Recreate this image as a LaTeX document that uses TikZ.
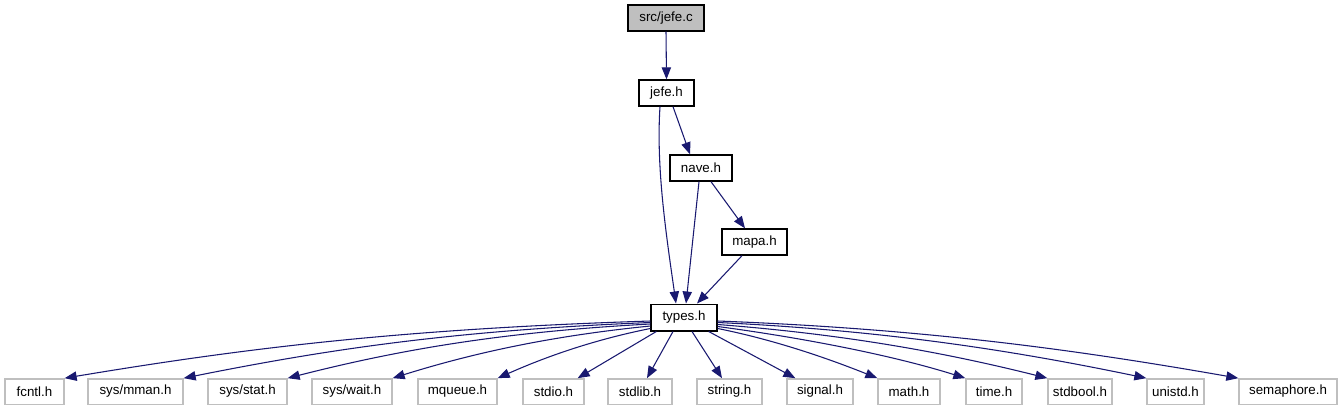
\documentclass[tikz,border=0pt]{standalone}
\usepackage{fontspec}
\setmainfont{Liberation Sans}
\usetikzlibrary{arrows.meta,calc}
\definecolor{edgeblue}{RGB}{25,25,112}
\definecolor{lightborder}{RGB}{191,191,191}
\definecolor{rootfill}{RGB}{191,191,191}
\begin{document}
\begin{tikzpicture}[x=0.75pt,y=-0.75pt,
  box/.style={draw=black,line width=1pt,fill=white,inner sep=0pt,minimum height=19.5pt,font=\fontsize{10}{12}\selectfont},
  rootbox/.style={box,fill=rootfill},
  leaf/.style={draw=lightborder,line width=1pt,fill=white,inner sep=0pt,minimum height=19pt,font=\fontsize{10}{12}\selectfont},
  edge/.style={draw=edgeblue,line width=0.8pt,-{Triangle[length=9pt,width=7pt]}}]
\useasboundingbox (0,0) rectangle (1342,411);
% main nodes
\node[rootbox,minimum width=57pt] (src) at (666,18) {src/jefe.c};
\node[box,minimum width=41.25pt] (jefe) at (666.5,93) {jefe.h};
\node[box,minimum width=46.5pt] (nave) at (701,168) {nave.h};
\node[box,minimum width=48.75pt] (mapa) at (754.5,242) {mapa.h};
\node[box,minimum width=49.5pt,minimum height=20pt] (types) at (684,317.5) {types.h};
% leaves
\node[leaf,minimum width=44.25pt] (fcntl) at (34.5,391.5) {fcntl.h};
\node[leaf,minimum width=71.25pt] (mman) at (135.5,391.5) {sys/mman.h};
\node[leaf,minimum width=59.25pt] (stat) at (247.5,391.5) {sys/stat.h};
\node[leaf,minimum width=60pt] (wait) at (352,391.5) {sys/wait.h};
\node[leaf,minimum width=59.25pt] (mqueue) at (457.5,391.5) {mqueue.h};
\node[leaf,minimum width=45.75pt] (stdio) at (553.5,391.5) {stdio.h};
\node[leaf,minimum width=48pt] (stdlib) at (640,391.5) {stdlib.h};
\node[leaf,minimum width=48.75pt] (string) at (729.5,391.5) {string.h};
\node[leaf,minimum width=49.5pt] (signal) at (820,391.5) {signal.h};
\node[leaf,minimum width=46.5pt] (math) at (909,391.5) {math.h};
\node[leaf,minimum width=42pt] (time) at (994,391.5) {time.h};
\node[leaf,minimum width=48pt] (stdbool) at (1080,391.5) {stdbool.h};
\node[leaf,minimum width=42.75pt] (unistd) at (1175.5,391.5) {unistd.h};
\node[leaf,minimum width=73.5pt] (semaphore) at (1288,391.5) {semaphore.h};
% upper edges
\draw[edge] (src.south) -- (jefe.north);
\draw[edge] ($(jefe.south)+(6.5,0)$) -- ($(nave.north)+(-11,0)$);
\draw[edge] ($(jefe.south)+(-6.5,0)$) .. controls +(-4,60) and +(-10,-70) .. ($(types.north)+(-8,0)$);
\draw[edge] ($(nave.south)+(-2,0)$) -- ($(types.north)+(2,0)$);
\draw[edge] ($(nave.south)+(10,0)$) -- ($(mapa.north)+(-9.5,0)$);
\draw[edge] ($(mapa.south)+(-12.5,0)$) -- ($(types.north)+(13,0)$);
% lower edges, left
\draw[edge] ($(types.west)+(0,3.5)$) .. controls +(-250,8) and +(180,-30) .. (fcntl.north east);
\draw[edge] ($(types.west)+(0,5)$) .. controls +(-200,8) and +(140,-28) .. (mman.north east);
\draw[edge] ($(types.west)+(0,6.5)$) .. controls +(-150,8) and +(110,-28) .. (stat.north east);
\draw[edge] ($(types.west)+(0,8.5)$) .. controls +(-100,10) and +(80,-25) .. (wait.north east);
\draw[edge] ($(types.west)+(0,11)$) .. controls +(-60,12) and +(45,-20) .. (mqueue.north east);
\draw[edge] ($(types.south west)+(6,0)$) -- ($(stdio.north east)+(-7,0)$);
\draw[edge] ($(types.south)+(-11,0)$) -- ($(stdlib.north)+(7,0)$);
\draw[edge] ($(types.south)+(8,0)$) -- ($(string.north)+(-7.5,0)$);
\draw[edge] ($(types.south east)+(-9,0)$) -- ($(signal.north west)+(9,0)$);
% lower edges, right
\draw[edge] ($(types.east)+(0,11)$) .. controls +(60,12) and +(-45,-18) .. (math.north west);
\draw[edge] ($(types.east)+(0,9)$) .. controls +(90,12) and +(-70,-22) .. (time.north west);
\draw[edge] ($(types.east)+(0,7)$) .. controls +(130,10) and +(-100,-25) .. (stdbool.north west);
\draw[edge] ($(types.east)+(0,5)$) .. controls +(170,8) and +(-130,-27) .. (unistd.north west);
\draw[edge] ($(types.east)+(0,3.5)$) .. controls +(210,8) and +(-160,-28) .. (semaphore.north west);
\end{tikzpicture}
\end{document}
